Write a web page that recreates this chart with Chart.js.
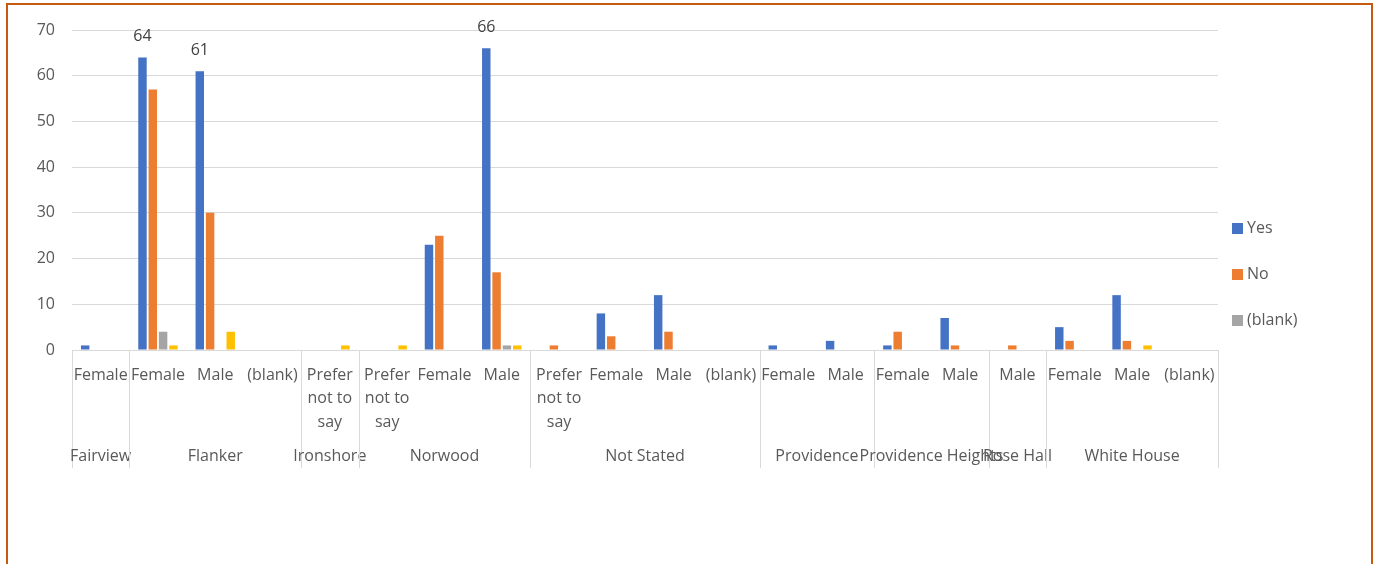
<!DOCTYPE html>
<html>
<head>
<meta charset="utf-8">
<script src="https://cdn.jsdelivr.net/npm/chart.js@4/dist/chart.umd.min.js"></script>
<style>
  body { margin: 0; background: #fff; overflow: hidden; }
  .frame {
    position: absolute; left: 6px; top: 3px; width: 1367px; height: 620px;
    border: 2px solid #C55A11; box-sizing: border-box;
  }
  #wrap { position: absolute; left: 0; top: 0; width: 1380px; height: 564px; }
</style>
</head>
<body>
<div class="frame"></div>
<div id="wrap"><canvas id="myChart"></canvas></div>
<script>
// Categories (inner level) and their groups
const genders = ['Female', 'Female', 'Male', '(blank)', 'Prefer not to say', 'Prefer not to say', 'Female', 'Male',
  'Prefer not to say', 'Female', 'Male', '(blank)', 'Female', 'Male', 'Female', 'Male', 'Male', 'Female', 'Male', '(blank)'];
const areas = ['Fairview', 'Flanker', 'Flanker', 'Flanker', 'Ironshore', 'Norwood', 'Norwood', 'Norwood',
  'Not Stated', 'Not Stated', 'Not Stated', 'Not Stated', 'Providence', 'Providence',
  'Providence Heights', 'Providence Heights', 'Rose Hall', 'White House', 'White House', 'White House'];

// Series values
const yesValues   = [1, 64, 61, null, null, null, 23, 66, null, 8, 12, null, 1, 2, 1, 7, null, 5, 12, null];
const noValues    = [null, 57, 30, null, null, null, 25, 17, 1, 3, 4, null, null, null, 4, 1, 1, 2, 2, null];
const blankValues = [null, 4, null, null, null, null, null, 1, null, null, null, null, null, null, null, null, null, null, null, null];
const otherValues = [null, 1, 4, null, 1, 1, null, 1, null, null, null, null, null, null, null, null, null, null, 1, null];

// Y axis ticks
const yTicks = [0, 10, 20, 30, 40, 50, 60, 70];

const FONT = '"Open Sans", sans-serif';
const TEXT = '#595959';
const GRID = '#D9D9D9';

// wrap long labels like Excel does
function wrapLabel(s) {
  if (s === 'Prefer not to say') return ['Prefer', 'not to', 'say'];
  return s;
}

// Multi level axis: group names + separator lines, data labels, legend
const extrasPlugin = {
  id: 'extras',
  afterDraw(chart) {
    const ctx = chart.ctx;
    const x = chart.scales.x;
    const area = chart.chartArea;
    const half = (x.getPixelForValue(1) - x.getPixelForValue(0)) / 2;
    ctx.save();

    // group separators and group labels
    ctx.strokeStyle = GRID;
    ctx.lineWidth = 1;
    ctx.font = '16px ' + FONT;
    ctx.fillStyle = TEXT;
    ctx.textAlign = 'center';
    ctx.textBaseline = 'middle';
    let start = 0;
    for (let i = 0; i <= areas.length; i++) {
      if (i === areas.length || areas[i] !== areas[start]) {
        const left = x.getPixelForValue(start) - half;
        const right = x.getPixelForValue(i - 1) + half;
        ctx.fillText(areas[start], (left + right) / 2, area.bottom + 106);
        start = i;
      }
      if (i === 0 || i === areas.length || areas[i] !== areas[i - 1]) {
        const px = Math.round(i === areas.length ? x.getPixelForValue(i - 1) + half : x.getPixelForValue(i) - half) + 0.5;
        ctx.beginPath();
        ctx.moveTo(px, area.bottom);
        ctx.lineTo(px, area.bottom + 118);
        ctx.stroke();
      }
    }

    // data labels on the tallest Yes bars
    const meta = chart.getDatasetMeta(0);
    ctx.fillStyle = '#404040';
    ctx.textBaseline = 'bottom';
    meta.data.forEach(function(bar, i) {
      const v = yesValues[i];
      if (v !== null && v > 60) {
        ctx.fillText(String(v), bar.x, bar.y - 13);
      }
    });

    // legend (first three series)
    ctx.textAlign = 'left';
    ctx.textBaseline = 'middle';
    chart.data.datasets.slice(0, 3).forEach(function(ds, i) {
      const ly = 228 + i * 46;
      ctx.fillStyle = ds.backgroundColor;
      ctx.fillRect(1232, ly - 5, 11, 11);
      ctx.fillStyle = TEXT;
      ctx.fillText(ds.label, 1247, ly);
    });
    ctx.restore();
  }
};

const ctx = document.getElementById('myChart').getContext('2d');

const chart = new Chart(ctx, {
  type: 'bar',
  data: {
    labels: genders.map(wrapLabel),
    datasets: [
      { label: 'Yes', backgroundColor: '#4472C4', data: yesValues },
      { label: 'No', backgroundColor: '#ED7D31', data: noValues },
      { label: '(blank)', backgroundColor: '#A5A5A5', data: blankValues },
      { label: 'Other', backgroundColor: '#FFC000', data: otherValues }
    ]
  },
  options: {
    responsive: true,
    maintainAspectRatio: false,
    animation: false,
    layout: { padding: { left: 0, right: 162, top: 30, bottom: 0 } },
    datasets: {
      bar: { categoryPercentage: 0.72, barPercentage: 0.82, borderWidth: 0 }
    },
    plugins: {
      legend: { display: false },
      tooltip: { enabled: false }
    },
    scales: {
      x: {
        grid: { display: false },
        border: { display: false },
        ticks: {
          autoSkip: false,
          maxRotation: 0,
          minRotation: 0,
          padding: 6,
          color: TEXT,
          font: { family: FONT, size: 16, lineHeight: 1.45 }
        },
        afterFit(scale) { scale.height = 214; }
      },
      y: {
        min: 0,
        max: 70,
        afterBuildTicks(scale) { scale.ticks = yTicks.map(v => ({ value: v })); },
        grid: { color: GRID, lineWidth: 1, drawTicks: false },
        border: { display: false },
        ticks: {
          padding: 17,
          color: TEXT,
          font: { family: FONT, size: 16 }
        },
        afterFit(scale) { scale.width = 72; }
      }
    }
  },
  plugins: [extrasPlugin]
});
</script>
</body>
</html>
